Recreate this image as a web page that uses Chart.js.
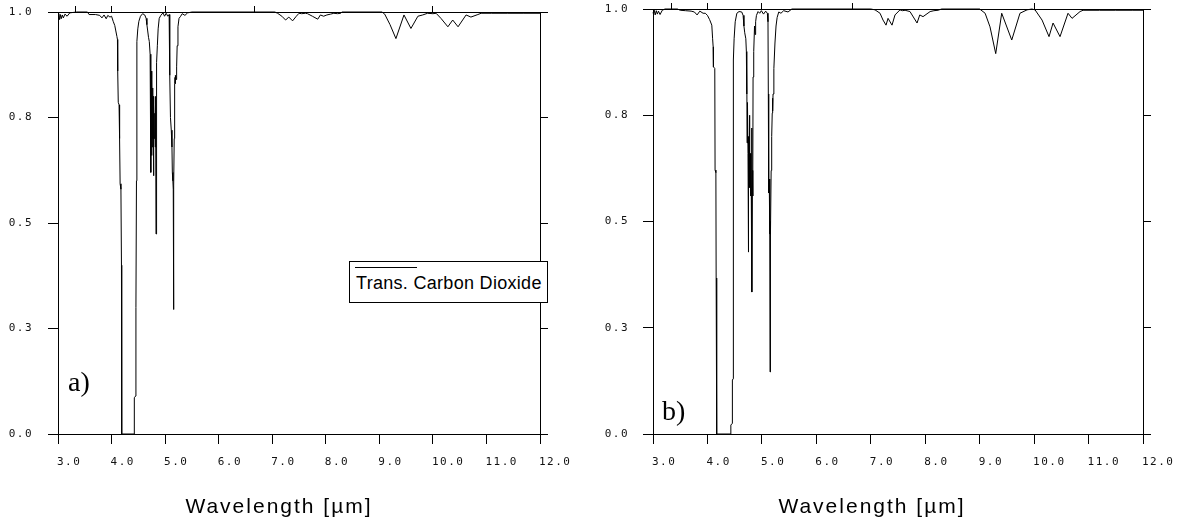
<!DOCTYPE html>
<html>
<head>
<meta charset="utf-8">
<script src="https://cdn.jsdelivr.net/npm/chart.js@4.4.1/dist/chart.umd.min.js"></script>
<style>
html,body{margin:0;padding:0;background:#fff;}
#wrap{position:relative;width:1185px;height:526px;overflow:hidden;background:#fff;}
.box{position:absolute;top:0;width:590px;height:526px;}
#boxA{left:0;}
#boxB{left:595px;}
.panel{position:absolute;font-family:"Liberation Serif","Times New Roman",serif;font-size:28px;line-height:30px;color:#000;z-index:2;}
.xtitle{position:absolute;font-family:"Liberation Sans",Arial,sans-serif;font-size:21px;line-height:21px;letter-spacing:2px;color:#000;white-space:nowrap;text-align:center;z-index:2;}
#legend{position:absolute;left:349px;top:261px;width:199px;height:42px;border:1px solid #000;box-sizing:border-box;background:#fff;z-index:3;}
#legend .ln{position:absolute;left:5px;top:5px;width:62px;height:1px;background:#000;}
#legend .tx{position:absolute;left:6px;top:12px;font-family:"Liberation Sans",Arial,sans-serif;font-size:18px;line-height:18px;letter-spacing:0.3px;color:#000;white-space:nowrap;}
</style>
</head>
<body>
<div id="wrap">
  <div class="box" id="boxA"><canvas id="chartA" width="590" height="526"></canvas></div>
  <div class="box" id="boxB"><canvas id="chartB" width="590" height="526"></canvas></div>
  <div class="panel" style="left:68px;top:367px;">a)</div>
  <div class="panel" style="left:662px;top:396px;">b)</div>
  <div class="xtitle" style="left:174px;top:495px;width:210px;">Wavelength [µm]</div>
  <div class="xtitle" style="left:767px;top:495px;width:210px;">Wavelength [µm]</div>
  <div id="legend"><div class="ln"></div><div class="tx">Trans. Carbon Dioxide</div></div>
</div>
<script>
// ---- data ----
const seriesName = "Trans. Carbon Dioxide";

// panel a) wavelength [um] and transmission
const wlA = [
 3.00,3.015,3.03,3.045,3.06,3.08,3.10,3.13,3.17,3.22,
 3.35,3.55,3.58,3.70,3.78,3.82,3.86,3.90,3.93,3.97,
 4.00,4.03,4.06,4.08,4.10,4.11,4.115,4.125,4.14,4.15,
 4.16,4.175,4.185,4.19,4.42,4.425,4.45,4.455,4.465,4.473,
 4.49,4.51,4.54,4.58,4.62,4.645,4.66,4.675,4.69,4.705,
 4.72,4.73,4.735,4.742,4.748,4.754,4.76,4.766,4.772,4.778,
 4.783,4.79,4.80,4.808,4.815,4.822,4.83,4.836,4.845,4.855,
 4.87,4.89,4.92,4.96,4.99,5.02,5.05,5.075,5.083,5.09,
 5.10,5.115,5.128,5.135,5.145,5.152,5.157,5.163,5.17,5.178,
 5.185,5.19,5.195,5.205,5.215,5.225,5.24,5.26,5.29,5.32,
 5.37,5.42,5.50,7.05,7.10,7.18,7.25,7.31,7.38,7.45,
 7.50,7.55,7.62,7.66,7.75,7.85,7.90,7.96,8.02,8.09,
 8.15,8.22,8.28,8.30,9.05,9.10,9.20,9.31,9.46,9.59,
 9.72,9.81,9.90,10.00,10.06,10.15,10.28,10.37,10.47,10.62,
 10.71,10.84,10.90,11.10,11.40,11.70,12.00
];
const trA = [
 0.988,0.996,0.982,0.994,0.984,0.993,0.986,0.995,0.990,0.998,
 1.000,1.000,0.994,0.994,0.992,0.986,0.993,0.984,0.992,0.988,
 0.990,0.978,0.968,0.955,0.942,0.935,0.860,0.786,0.780,0.700,
 0.593,0.580,0.400,0.000,0.000,0.086,0.090,0.300,0.600,0.930,
 0.960,0.978,0.990,0.996,0.993,0.985,0.970,0.955,0.940,0.930,
 0.900,0.850,0.620,0.860,0.660,0.840,0.680,0.820,0.700,0.800,
 0.612,0.780,0.700,0.760,0.680,0.800,0.474,0.830,0.880,0.920,
 0.960,0.985,0.992,0.998,0.990,0.997,0.990,0.994,0.970,0.850,
 0.750,0.720,0.680,0.620,0.600,0.580,0.295,0.590,0.700,0.830,
 0.845,0.830,0.850,0.840,0.870,0.920,0.965,0.985,0.990,0.996,
 0.992,0.998,1.000,1.000,0.997,0.990,0.981,0.988,0.979,0.990,
 0.997,0.996,0.997,0.996,0.990,0.983,0.993,0.990,0.993,0.995,
 0.997,0.996,0.997,1.000,1.000,0.995,0.970,0.937,0.993,0.961,
 0.990,0.993,0.997,0.996,0.997,0.985,0.965,0.981,0.965,0.993,
 0.988,0.994,0.997,0.997,0.997,0.997,0.997
];

// panel b) wavelength [um] and transmission
const wlB = [
 3.00,3.02,3.04,3.06,3.08,3.10,3.13,3.17,3.22,3.45,
 3.50,3.60,3.70,3.76,3.81,3.86,3.92,3.96,4.00,4.04,
 4.08,4.095,4.105,4.11,4.135,4.14,4.155,4.16,4.168,4.172,
 4.427,4.43,4.455,4.458,4.472,4.476,4.49,4.51,4.54,4.58,
 4.63,4.655,4.67,4.685,4.705,4.715,4.72,4.724,4.728,4.735,
 4.745,4.751,4.757,4.765,4.772,4.778,4.784,4.79,4.798,4.805,
 4.812,4.818,4.826,4.832,4.838,4.85,4.865,4.875,4.885,4.90,
 4.93,4.96,4.99,5.03,5.07,5.10,5.112,5.118,5.125,5.135,
 5.142,5.147,5.15,5.155,5.16,5.17,5.18,5.19,5.195,5.20,
 5.205,5.22,5.24,5.26,5.28,5.31,5.35,5.40,5.48,5.55,
 7.00,7.078,7.17,7.225,7.28,7.317,7.39,7.445,7.537,7.58,
 7.63,7.72,7.85,7.90,7.96,8.09,8.16,8.235,8.30,9.00,
 9.10,9.19,9.295,9.405,9.589,9.74,9.87,9.96,10.017,10.146,
 10.274,10.348,10.476,10.623,10.697,10.844,10.899,11.2,11.5,11.8,
 12.0
];
const trB = [
 0.990,0.998,0.986,0.996,0.988,0.995,0.987,0.997,1.000,1.000,
 0.997,0.996,0.995,0.993,0.986,0.995,0.990,0.990,0.985,0.975,
 0.962,0.930,0.911,0.864,0.860,0.621,0.615,0.367,0.360,0.000,
 0.000,0.021,0.025,0.127,0.130,0.880,0.930,0.970,0.990,0.994,
 0.993,0.985,0.960,0.944,0.930,0.900,0.800,0.880,0.685,0.780,
 0.660,0.428,0.700,0.600,0.750,0.580,0.660,0.560,0.640,0.570,
 0.720,0.334,0.620,0.560,0.840,0.900,0.960,0.940,0.970,0.985,
 0.994,0.990,0.996,0.988,0.995,0.990,0.970,0.800,0.567,0.600,
 0.550,0.470,0.146,0.500,0.470,0.620,0.700,0.755,0.790,0.760,
 0.800,0.860,0.920,0.960,0.980,0.993,0.990,0.996,0.993,1.000,
 1.000,0.998,0.990,0.974,0.962,0.978,0.962,0.986,0.998,0.996,
 0.997,0.994,0.967,0.986,0.982,0.994,0.996,0.997,1.000,1.000,
 0.990,0.958,0.895,0.990,0.927,0.990,0.998,1.000,0.998,0.974,
 0.935,0.967,0.935,0.990,0.978,0.994,0.997,0.997,0.997,0.997,
 0.997
];

// axis ticks
const xTickValues = [3,4,5,6,7,8,9,10,11,12];
const xTickLabels = ["3.0","4.0","5.0","6.0","7.0","8.0","9.0","10.0","11.0","12.0"];
const yTickValues = [0,0.25,0.5,0.75,1.0];
const yTickLabels = ["0.0","0.3","0.5","0.8","1.0"];
const topTickWavenumbers = [3000,2500,2000,1500,1000]; // cm-1, unlabeled top axis

// ---- drawing ----
const spacingPlugin = {
  id:'letterSpacing',
  beforeDraw(chart){ chart.ctx.letterSpacing = '1.5px'; },
  afterDraw(chart){ chart.ctx.letterSpacing = '0px'; }
};

function noPad(s){ s.paddingTop = 0; s.paddingBottom = 0; s.paddingLeft = 0; s.paddingRight = 0; }

function makeChart(id, wl, tr, pad, yLabelPad){
  const pts = wl.map((x,i)=>({x:x, y:tr[i]}));
  const tickFont = {family:'"DejaVu Sans Mono", monospace', size:11};
  return new Chart(document.getElementById(id), {
    type:'line',
    data:{datasets:[{label:seriesName, data:pts, borderColor:'#000', borderWidth:1,
      pointRadius:0, tension:0, fill:false, clip:false}]},
    options:{
      responsive:false, animation:false, devicePixelRatio:1,
      layout:{padding:pad},
      plugins:{legend:{display:false}, tooltip:{enabled:false}},
      scales:{
        x:{type:'linear', position:'bottom', min:3, max:12,
          afterBuildTicks:s=>{ s.ticks = xTickValues.map(v=>({value:v})); },
          ticks:{callback:(v,i)=>xTickLabels[i], align:'start', labelOffset:-1, padding:12, font:tickFont, color:'#111', maxRotation:0, autoSkip:false},
          grid:{drawOnChartArea:false, tickLength:10, tickColor:'#000', color:'#000'},
          border:{color:'#000', width:1},
          afterFit:s=>{ s.height = 40; noPad(s); }},
        x2:{type:'linear', position:'top', min:3, max:12,
          afterBuildTicks:s=>{ s.ticks = topTickWavenumbers.map(w=>({value:1e4/w})); },
          ticks:{display:false},
          grid:{drawOnChartArea:false, tickLength:6, tickColor:'#000', color:'#000'},
          border:{color:'#000', width:1},
          afterFit:s=>{ s.height = 6; noPad(s); }},
        y:{type:'linear', position:'left', min:0, max:1,
          afterBuildTicks:s=>{ s.ticks = yTickValues.map(v=>({value:v})); },
          ticks:{callback:(v,i)=>yTickLabels[i], padding:yLabelPad, font:tickFont, color:'#111'},
          grid:{drawOnChartArea:false, tickLength:10, tickColor:'#000', color:'#000'},
          border:{color:'#000', width:1},
          afterFit:s=>{ s.width = 58; noPad(s); }},
        y2:{type:'linear', position:'right', min:0, max:1,
          afterBuildTicks:s=>{ s.ticks = yTickValues.map(v=>({value:v})); },
          ticks:{display:false},
          grid:{drawOnChartArea:false, tickLength:8, tickColor:'#000', color:'#000'},
          border:{color:'#000', width:1},
          afterFit:s=>{ s.width = 8; noPad(s); }}
      }
    },
    plugins:[spacingPlugin]
  });
}

makeChart('chartA', wlA, trA, {left:0, right:42, top:6, bottom:52}, 15);
makeChart('chartB', wlB, trB, {left:0, right:34, top:3, bottom:52}, 14);
</script>
</body>
</html>
